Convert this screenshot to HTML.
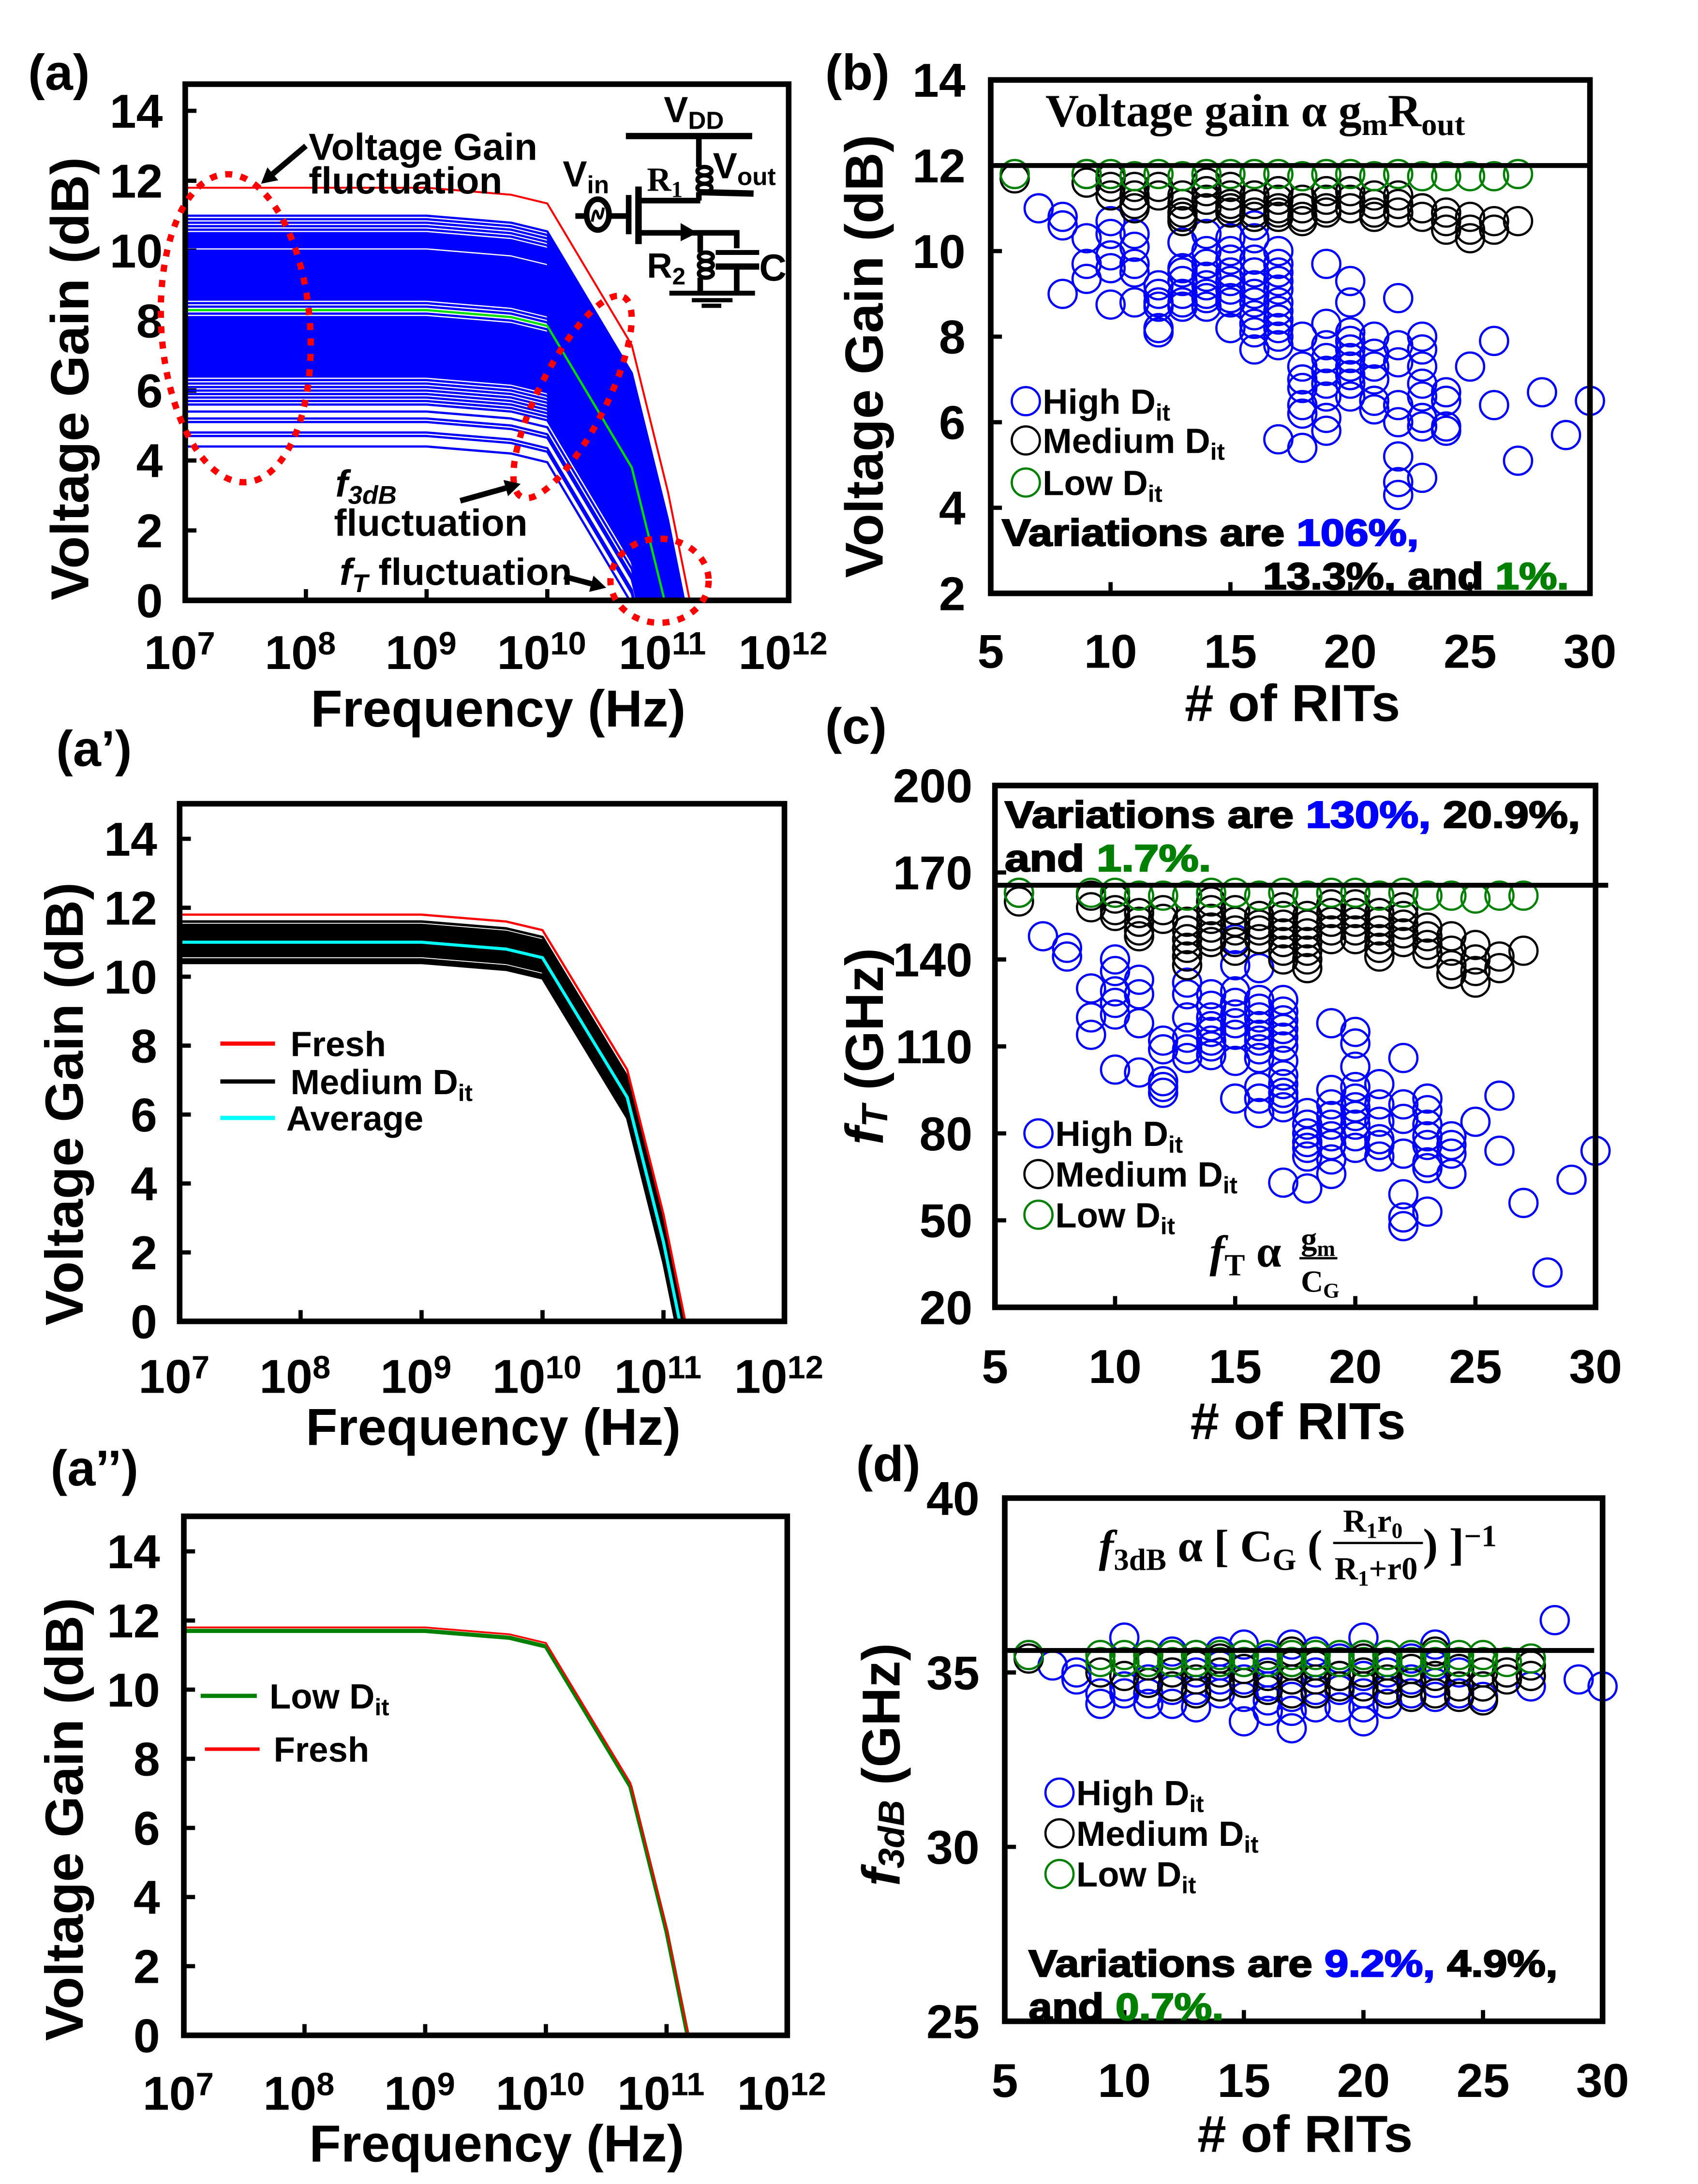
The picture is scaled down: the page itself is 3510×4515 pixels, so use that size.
<!DOCTYPE html>
<html><head><meta charset="utf-8"><style>
html,body{margin:0;padding:0;background:#fff;}
svg{display:block;}
text{font-family:"Liberation Sans",Arial,sans-serif;font-weight:bold;}
.serif{font-family:"Liberation Serif","DejaVu Serif",serif;}
</style></head><body>
<svg id="fig" xmlns="http://www.w3.org/2000/svg" width="3510" height="4515" viewBox="0 0 1210 1557" preserveAspectRatio="none">
<rect x="0" y="0" width="1210" height="1557" fill="#fff"/>
</svg>
<script>
// ---------- data: frequency response ----------
const freqLog = [7, 9, 9.7, 10, 10.7, 11, 11.18];
const gainDrop = [0, 0, 0.2, 0.45, 4.5, 8.7, 11.8];
const freshLevel = 11.8;
const greenLevelA = 8.3;
const blueLevelsA = [11.0,10.9,10.8,10.7,10.6,10.5,10.45,10.4,10.35,10.3,10.25,10.2,10.15,10.1,10.0,9.95,9.9,9.85,9.8,9.75,9.7,9.65,9.6,9.55,9.5,9.45,9.4,9.35,9.3,9.25,9.2,9.15,9.1,9.05,9.0,8.95,8.9,8.85,8.8,8.75,8.7,8.65,8.6,8.5,8.4,8.2,8.1,8.05,8.0,7.95,7.9,7.85,7.8,7.75,7.7,7.65,7.6,7.55,7.5,7.45,7.4,7.35,7.3,7.25,7.2,7.15,7.1,7.05,7.0,6.95,6.9,6.85,6.8,6.75,6.7,6.65,6.6,6.55,6.5,6.45,6.4,6.3,6.2,6.1,6.0,5.9,5.8,5.7,5.6,5.4,5.2,5.1,4.8,4.7,4.4];
const blackLevelsA2 = [11.6,11.5,11.45,11.4,11.35,11.3,11.25,11.2,11.15,11.1,11.05,11.0,10.95,10.9,10.85,10.8,10.75,10.7,10.65,10.6,10.5,10.45,10.4];
const averageLevelA2 = 11.0;
const lowLevelA3 = 11.7;
const freshLevelA3 = 11.8;
const freqTicks = [7,8,9,10,11,12];
const gainTicks = [0,2,4,6,8,10,12,14];

// ---------- data: panel (b) voltage gain vs RITs ----------
const bHighX = [7,8,8,8,9,9,9,10,10,10,10,10,11,11,11,11,11,12,12,12,12,12,12,13,13,13,13,13,13,13,14,14,14,14,14,14,14,14,15,15,15,15,15,15,15,15,15,15,16,16,16,16,16,16,16,16,16,16,16,17,17,17,17,17,17,17,17,17,17,17,17,18,18,18,18,18,18,18,19,19,19,19,19,19,19,19,19,20,20,20,20,20,20,20,20,20,20,21,21,21,21,21,21,22,22,22,22,22,22,22,22,23,23,23,23,23,23,23,23,24,24,24,24,25,26,26,27,28,29,30];
const bHighY = [11.0,10.8,10.6,9.0,10.3,9.7,9.35,10.7,10.4,9.9,9.6,8.75,10.4,10.1,9.7,9.5,8.8,9.2,8.8,8.7,8.2,8.1,9.0,10.2,9.6,9.3,9.0,8.8,8.7,9.5,10.4,10.0,9.7,9.4,9.2,9.0,8.9,8.7,11.0,10.3,10.0,9.8,9.5,9.3,9.1,8.9,8.8,8.2,10.6,10.3,9.8,9.5,9.2,9.0,8.8,8.5,8.3,8.1,7.7,10.0,9.7,9.5,9.3,9.1,8.8,8.6,8.4,8.2,8.0,7.8,5.6,8.0,7.3,7.0,6.8,6.4,6.2,5.4,9.7,8.3,7.8,7.5,7.2,6.9,6.6,6.1,5.8,9.3,8.8,8.1,7.9,7.7,7.5,7.3,7.1,6.9,6.6,8.0,7.6,7.3,7.0,6.5,6.3,8.9,7.8,7.4,6.4,6.0,5.2,4.6,4.3,8.0,7.7,7.3,6.9,6.6,6.1,5.9,4.7,6.7,6.5,5.9,5.8,7.3,7.9,6.4,5.1,6.7,5.7,6.5];
const bMedX = [6,9,9,10,10,10,11,11,11,11,12,12,13,13,13,13,13,14,14,14,14,15,15,15,15,15,16,16,16,16,17,17,17,17,17,18,18,18,18,19,19,19,19,20,20,20,21,21,21,21,22,22,22,23,23,24,24,24,25,25,25,26,26,27];
const bMedY = [11.7,11.8,11.6,11.7,11.5,11.3,11.5,11.3,11.1,11.0,11.5,11.3,11.3,11.1,10.9,10.8,10.7,11.6,11.4,11.2,11.0,11.5,11.3,11.1,11.0,10.9,11.3,11.1,10.9,10.8,11.4,11.2,11.0,10.9,10.8,11.2,11.0,10.8,10.7,11.4,11.2,11.0,10.9,11.4,11.2,11.0,11.3,11.1,10.9,10.8,11.3,11.1,10.9,11.0,10.8,10.9,10.7,10.5,10.8,10.5,10.3,10.7,10.5,10.7];
const bLowX = [6,9,10,11,12,13,14,15,16,17,18,19,20,21,22,23,24,25,26,27];
const bLowY = [11.8,11.8,11.8,11.75,11.8,11.75,11.8,11.8,11.8,11.8,11.75,11.8,11.8,11.75,11.8,11.75,11.75,11.75,11.75,11.8];
const bRef = 12;
const bXTicks = [5,10,15,20,25,30];
const bYTicks = [2,4,6,8,10,12,14];

// ---------- data: panel (c) fT vs RITs ----------
const cHighX = [7,8,8,9,9,9,10,10,10,10,10,10,11,11,11,11,12,12,12,12,12,13,13,13,13,13,13,14,14,14,14,14,14,14,14,15,15,15,15,15,15,15,15,15,16,16,16,16,16,16,16,16,16,16,16,16,17,17,17,17,17,17,17,17,17,17,17,17,17,18,18,18,18,18,18,18,19,19,19,19,19,19,19,19,19,20,20,20,20,20,20,20,20,20,20,21,21,21,21,21,21,22,22,22,22,22,22,22,23,23,23,23,23,23,23,23,24,24,24,24,25,26,26,27,28,29,30];
const cHighY = [148,144,141,130,120,114,140,136,129,125,121,102,133,128,118,101,112,109,98,96,94,132,128,120,113,109,106,128,124,120,117,115,112,110,107,147,138,129,125,121,118,114,105,92,137,126,123,120,117,114,112,109,106,96,92,87,126,122,119,116,113,110,105,100,97,94,92,89,63,87,83,80,77,75,72,61,118,95,90,86,83,79,76,71,66,115,111,103,96,92,89,86,83,79,75,97,90,84,78,76,72,106,90,85,73,59,51,48,92,88,83,79,76,70,68,53,79,76,73,66,84,93,74,56,32,64,74];
const cMedX = [6,6,9,9,10,10,10,11,11,11,11,12,12,13,13,13,13,13,13,14,14,14,14,14,14,15,15,15,15,15,16,16,16,16,17,17,17,17,17,17,17,18,18,18,18,18,18,18,19,19,19,19,19,20,20,20,20,20,21,21,21,21,21,21,22,22,22,22,22,23,23,23,23,24,24,24,24,25,25,25,25,26,26,27];
const cMedY = [163,160,162,158,161,157,155,156,153,150,148,157,154,153,150,147,144,141,138,160,157,154,151,148,146,157,153,150,146,143,155,152,150,147,158,155,152,149,146,143,140,155,152,149,146,143,140,137,159,156,153,150,147,159,156,153,150,147,156,153,150,147,144,141,158,155,152,149,146,151,148,145,142,148,143,138,135,145,140,136,132,141,137,143];
const cLowX = [6,9,10,11,12,13,14,15,16,17,18,19,20,21,22,23,24,25,26,27];
const cLowY = [163,163,163,162,162,162,163,163,162,163,162,163,163,162,163,162,162,161,162,162];
const cRef = 165.6;
const cXTicks = [5,10,15,20,25,30];
const cYTicks = [20,50,80,110,140,170,200];

// ---------- data: panel (d) f3dB vs RITs ----------
const dHighX = [6,7,8,8,9,9,10,10,10,10,11,11,11,11,12,12,12,12,13,13,13,13,14,14,14,14,15,15,15,15,15,16,16,16,16,16,17,17,17,17,17,17,18,18,18,18,19,19,19,19,20,20,20,20,20,20,21,21,21,21,22,22,22,23,23,23,23,24,24,25,25,26,27,28,29,30];
const dHighY = [35.5,35.2,35.0,34.8,34.4,34.1,36.0,35.3,34.6,34.4,35.2,34.8,34.4,34.1,35.6,35.0,34.5,34.1,35.5,35.0,34.5,34.0,35.6,35.2,34.8,34.4,35.8,35.3,34.8,34.3,33.6,35.4,35.0,34.6,34.2,33.9,35.8,35.3,34.8,34.3,33.9,33.4,35.6,35.0,34.5,34.0,35.4,34.9,34.5,34.0,36.0,35.5,34.9,34.4,34.0,33.6,35.5,35.0,34.5,34.1,35.4,34.8,34.4,35.8,35.2,34.7,34.3,35.0,34.4,34.6,34.3,35.0,34.6,36.5,34.8,34.6];
const dMedX = [6,9,10,10,11,11,12,12,12,13,13,13,14,14,14,15,15,15,16,16,16,17,17,17,17,18,18,18,19,19,19,20,20,20,21,21,21,22,22,22,23,23,23,24,24,24,25,25,25,26,26,27,27];
const dMedY = [35.4,35.0,35.3,34.9,35.2,34.7,35.5,35.0,34.6,35.2,34.8,34.4,35.4,35.0,34.6,35.5,35.1,34.7,35.3,34.9,34.5,35.6,35.2,34.8,34.4,35.2,34.8,34.4,35.3,34.9,34.6,35.4,35.0,34.6,35.2,34.8,34.4,35.1,34.7,34.3,35.6,34.9,34.4,35.1,34.6,34.3,35.0,34.6,34.2,35.0,34.8,34.9,35.2];
const dLowX = [6,9,9,10,10,11,11,12,12,13,13,14,14,15,15,16,16,17,17,18,18,19,19,20,20,21,21,22,22,23,23,24,24,25,25,26,27];
const dLowY = [35.5,35.5,35.3,35.5,35.3,35.5,35.3,35.5,35.3,35.5,35.3,35.5,35.3,35.5,35.3,35.5,35.3,35.5,35.3,35.5,35.3,35.5,35.3,35.5,35.3,35.5,35.3,35.5,35.3,35.5,35.3,35.5,35.3,35.5,35.3,35.3,35.4];
const dRef = 35.63;
const dXTicks = [5,10,15,20,25,30];
const dYTicks = [25,30,35,40];

const NS = 'http://www.w3.org/2000/svg';
const svg = document.getElementById('fig');
function mk(tag, attrs, parent) {
  const e = document.createElementNS(NS, tag);
  for (const k in attrs) e.setAttribute(k, attrs[k]);
  (parent || svg).appendChild(e);
  return e;
}
function txt(x, y, s, size, opts, parent) {
  const t = mk('text', Object.assign({x: x, y: y, 'font-size': size}, opts || {}), parent);
  t.textContent = s;
  return t;
}
function richText(x, y, parts, size, opts, parent) {
  const t = mk('text', Object.assign({x: x, y: y, 'font-size': size}, opts || {}), parent);
  parts.forEach(p => {
    const s = document.createElementNS(NS, 'tspan');
    s.textContent = p[0];
    if (p[1] === 'sub') { s.setAttribute('font-size', size * 0.68); s.setAttribute('baseline-shift', '-28%'); }
    else if (p[1] === 'sup') { s.setAttribute('font-size', size * 0.68); s.setAttribute('baseline-shift', '45%'); }
    else if (p[1]) { s.setAttribute('fill', p[1]); s.setAttribute('stroke', p[1]); }
    if (p[2]) s.setAttribute('font-style', 'italic');
    t.appendChild(s);
  });
  return t;
}
function noteText(x, y, parts, len, parent) {
  const t = richText(x, y, parts, 27, {stroke: '#000', 'stroke-width': 0.9, textLength: len, lengthAdjust: 'spacingAndGlyphs'}, parent);
  return t;
}

// ---------- frequency panels ----------
function freqPanel(name, L, R, T, B, y14, labelX, ylabX, ylabY, tickBase, titleBase, title, titleX) {
  const g = mk('g', {});
  
  
  const sx = lf => L + (lf - 7) * (R - L) / 5;
  const sy = v => B - v * (B - y14) / 14;
  const curve = (level, color, w, nm) => {
    const pts = [];
    for (let i = 0; i < freqLog.length; i++) {
      const v = level - gainDrop[i];
      if (v >= 0) pts.push([sx(freqLog[i]), sy(v)]);
      else {
        const vp = level - gainDrop[i - 1];
        const lf = freqLog[i - 1] + (freqLog[i] - freqLog[i - 1]) * vp / (vp - v);
        pts.push([sx(lf), sy(0)]);
        break;
      }
    }
    const p = mk('polyline', {points: pts.map(q => q[0].toFixed(2) + ',' + q[1].toFixed(2)).join(' '), fill: 'none', stroke: color, 'stroke-width': w, 'stroke-linejoin': 'round'}, g);
    
    
    return p;
  };
  gainTicks.forEach(v => {
    const l = mk('line', {x1: L, x2: L + 8, y1: sy(v), y2: sy(v), stroke: '#000', 'stroke-width': 3}, g);
    
    
    const t = txt(labelX, sy(v) + 12, String(v), 34, {'text-anchor': 'end'}, g);
    
    
  });
  freqTicks.forEach(lf => {
    const l = mk('line', {x1: sx(lf), x2: sx(lf), y1: B, y2: B - 8, stroke: '#000', 'stroke-width': 3}, g);
    
    
    const t = richText(sx(lf) - 4, tickBase, [['10', ''], [String(lf), 'sup']], 34, {'text-anchor': 'middle'}, g);
    
    
  });
  const xl = txt((L + R) / 2 + 8, titleBase, 'Frequency (Hz)', 37, {'text-anchor': 'middle'}, g);
  
  
  const yl = txt(0, 0, 'Voltage Gain (dB)', 38, {'text-anchor': 'middle', transform: 'translate(' + ylabX + ',' + ylabY + ') rotate(-90)', 'dominant-baseline': 'central'}, g);
  
  
  const pt = txt(titleX, title[1], title[0], 36, {}, g);
  
  
  return {g, sx, sy, curve, L, R, T, B};
}

// Panel (a)
const A = freqPanel('panel-a', 132, 562, 60, 428, 79, 116, 50, 270, 477, 518, ['(a)', 64], 20);
blueLevelsA.forEach(lv => A.curve(lv, '#0000ff', 1.6, 'blue-curve'));
A.curve(greenLevelA, '#00dd00', 1.6, 'green-average-curve');
A.curve(freshLevel, '#ff0000', 1.4, 'fresh-curve');
(function () {
  const box = mk('rect', {x: A.L, y: A.T, width: A.R - A.L, height: A.B - A.T, fill: 'none', stroke: '#000', 'stroke-width': 4});
  
  
  const c = mk('g', {stroke: '#000', fill: 'none', 'stroke-width': 4});
  
  
  const L = (x1, y1, x2, y2, w) => mk('line', {x1, y1, x2, y2, 'stroke-width': w || 4}, c);
  L(446, 97, 536, 97, 4.5);
  L(498, 97, 498, 119);
  [122, 128, 134].forEach(y => mk('ellipse', {cx: 502, cy: y, rx: 5, ry: 3, 'stroke-width': 3}, c));
  L(498, 137, 537, 138, 4.5);
  L(498, 137, 498, 143);
  L(457, 143, 499, 143);
  L(455, 133, 455, 174, 4.6);
  L(448, 139, 448, 167, 4);
  L(410, 154, 448, 154);
  mk('ellipse', {cx: 426, cy: 153, rx: 8, ry: 11, 'stroke-width': 4, fill: '#fff'}, c);
  mk('path', {d: 'M422,158 Q424,146 426,153 Q428,160 430,148', 'stroke-width': 2}, c);
  L(457, 166, 526, 166);
  mk('polygon', {points: '485,159 497,166 485,172', fill: '#000', stroke: 'none'}, c);
  L(525, 164, 525, 177);
  L(499, 166, 499, 180);
  [183, 189, 195].forEach(y => mk('ellipse', {cx: 503, cy: y, rx: 5, ry: 3, 'stroke-width': 3}, c));
  L(499, 198, 499, 209);
  L(510, 180, 541, 180, 3.5);
  L(510, 190, 541, 190, 4.5);
  L(525, 190, 525, 209);
  L(477, 209, 538, 209, 3.5);
  L(493, 214, 522, 214, 3);
  L(500, 218, 514, 218, 3);
  const t1 = richText(473, 87, [['V', ''], ['DD', 'sub']], 26, {}, c);
  t1.setAttribute('stroke', 'none'); t1.setAttribute('fill', '#000');
  
  
  const t2 = richText(508, 127, [['V', ''], ['out', 'sub']], 26, {}, c);
  t2.setAttribute('stroke', 'none'); t2.setAttribute('fill', '#000');
  
  
  const t3 = richText(401, 133, [['V', ''], ['in', 'sub']], 26, {}, c);
  t3.setAttribute('stroke', 'none'); t3.setAttribute('fill', '#000');
  
  
  const t4 = richText(461, 136, [['R', ''], ['1', 'sub']], 24, {class: 'serif'}, c);
  t4.setAttribute('stroke', 'none'); t4.setAttribute('fill', '#000');
  
  
  const t5 = richText(461, 198, [['R', ''], ['2', 'sub']], 25, {}, c);
  t5.setAttribute('stroke', 'none'); t5.setAttribute('fill', '#000');
  
  
  const t6 = txt(541, 200, 'C', 27, {stroke: 'none', fill: '#000'}, c);
  
  
  const an = mk('g', {});
  
  
  const d = {fill: 'none', stroke: '#ff0000', 'stroke-width': 4.5, 'stroke-dasharray': '5 6'};
  const e1 = mk('ellipse', Object.assign({cx: 168, cy: 234, rx: 53, ry: 110, transform: 'rotate(-4 168 234)'}, d), an);
  
  
  const e2 = mk('ellipse', Object.assign({cx: 408, cy: 283, rx: 80, ry: 24, transform: 'rotate(-63 408 283)'}, d), an);
  
  
  const e3 = mk('ellipse', Object.assign({cx: 470, cy: 414, rx: 35, ry: 30}, d), an);
  
  
  const arrow = (x1, y1, x2, y2, nm) => {
    const ang = Math.atan2(y2 - y1, x2 - x1), h = 11;
    const ln = mk('line', {x1, y1, x2: x2 - Math.cos(ang) * h, y2: y2 - Math.sin(ang) * h, stroke: '#000', 'stroke-width': 4}, an);
    
    
    const px = -Math.sin(ang) * 6, py = Math.cos(ang) * 6;
    const bx = x2 - Math.cos(ang) * h, by = y2 - Math.sin(ang) * h;
    const hd = mk('polygon', {points: x2 + ',' + y2 + ' ' + (bx + px) + ',' + (by + py) + ' ' + (bx - px) + ',' + (by - py), fill: '#000'}, an);
    
    
  };
  arrow(218, 104, 186, 131, 'gain-arrow');
  arrow(328, 357, 371, 345, 'f3db-arrow');
  arrow(402, 411, 432, 419, 'ft-arrow');
  const a1 = txt(220, 114, 'Voltage Gain', 27, {}, an);
  
  
  const a2 = txt(220, 138, 'fluctuation', 27, {}, an);
  
  
  const a3 = richText(239, 354, [['f', '', 1], ['3dB', 'sub', 1]], 27, {}, an);
  
  
  const a4 = txt(238, 382, 'fluctuation', 27, {}, an);
  
  
  const a5 = richText(242, 417, [['f', '', 1], ['T', 'sub', 1], [' fluctuation', '']], 27, {}, an);
  
  
})();

// Panel (a')
const A2 = freqPanel('panel-a-prime', 128, 559, 573, 942, 598, 112, 46, 787, 993, 1030, ["(a’)", 546], 40);
blackLevelsA2.forEach(lv => A2.curve(lv, '#000', 1.8, 'medium-dit-curve'));
A2.curve(freshLevel, '#ff0000', 1.6, 'fresh-curve');
A2.curve(averageLevelA2, '#00ffff', 2.2, 'average-curve');
(function () {
  const box = mk('rect', {x: A2.L, y: A2.T, width: A2.R - A2.L, height: A2.B - A2.T, fill: 'none', stroke: '#000', 'stroke-width': 4});
  
  
  const lg = mk('g', {});
  
  
  [['Fresh', '#ff0000', 744], ['Medium D', '#000', 771], ['Average', '#00ffff', 797]].forEach(r => {
    const l = mk('line', {x1: 157, x2: 196, y1: r[2], y2: r[2], stroke: r[1], 'stroke-width': 3}, lg);
    
    
    const parts = r[0] === 'Medium D' ? [['Medium D', ''], ['it', 'sub']] : [[r[0], '']];
    const t = richText(r[0] === 'Average' ? 204 : 207, r[2] + 9, parts, 25, {}, lg);
    
    
  });
})();

// Panel (a'')
const A3 = freqPanel('panel-a-double-prime', 131, 561, 1081, 1451, 1106, 114, 46, 1297, 1504, 1541, ["(a’’)", 1059], 36);
A3.curve(lowLevelA3, '#008000', 3, 'low-dit-curve');
A3.curve(freshLevelA3, '#ff0000', 1.3, 'fresh-curve');
(function () {
  const box = mk('rect', {x: A3.L, y: A3.T, width: A3.R - A3.L, height: A3.B - A3.T, fill: 'none', stroke: '#000', 'stroke-width': 4});
  
  
  const lg = mk('g', {});
  
  
  const l1 = mk('line', {x1: 143, x2: 183, y1: 1209, y2: 1209, stroke: '#008000', 'stroke-width': 3}, lg);
  
  
  const t1 = richText(192, 1218, [['Low D', ''], ['it', 'sub']], 25, {}, lg);
  
  
  const l2 = mk('line', {x1: 146, x2: 185, y1: 1247, y2: 1247, stroke: '#ff0000', 'stroke-width': 2.5}, lg);
  
  
  const t2 = txt(195, 1256, 'Fresh', 25, {}, lg);
  
  
})();

// ---------- scatter panels ----------
function scatterPanel(name, L, R, T, B, ymin, ymax, xTicks, yTicks, labelRight, tickBase, series, ref, refR) {
  const g = mk('g', {});
  
  
  const sx = r => L + (r - 5) * (R - L) / 25;
  const sy = v => B - (v - ymin) * (B - T) / (ymax - ymin);
  series.forEach(s => {
    const sg = mk('g', {fill: 'none', stroke: s.color, 'stroke-width': 1.6}, g);
    
    
    s.x.forEach((r, i) => {
      const c = mk('circle', {cx: sx(r).toFixed(2), cy: sy(s.y[i]).toFixed(2), r: 10}, sg);
      
      
    });
  });
  const rl = mk('line', {x1: L, x2: refR, y1: sy(ref), y2: sy(ref), stroke: '#000', 'stroke-width': 3.5}, g);
  
  
  const box = mk('rect', {x: L, y: T, width: R - L, height: B - T, fill: 'none', stroke: '#000', 'stroke-width': 4}, g);
  
  
  yTicks.forEach(v => {
    const l = mk('line', {x1: L, x2: L + 8, y1: sy(v), y2: sy(v), stroke: '#000', 'stroke-width': 3}, g);
    
    
    const t = txt(labelRight, sy(v) + 12, String(v), 34, {'text-anchor': 'end'}, g);
    
    
  });
  xTicks.forEach(r => {
    const l = mk('line', {x1: sx(r), x2: sx(r), y1: B, y2: B - 8, stroke: '#000', 'stroke-width': 3}, g);
    
    
    const t = txt(sx(r), tickBase, String(r), 34, {'text-anchor': 'middle'}, g);
    
    
  });
  return {g, sx, sy};
}
function scatterLegend(x, ys, parent) {
  const lg = mk('g', {}, parent);
  
  
  [['High D', '#0000ff'], ['Medium D', '#000'], ['Low D', '#008000']].forEach((r, i) => {
    const c = mk('circle', {cx: x, cy: ys[i], r: 10, fill: 'none', stroke: r[1], 'stroke-width': 1.6}, lg);
    
    
    const t = richText(x + 12, ys[i] + 9, [[r[0], ''], ['it', 'sub']], 25, {}, lg);
    
    
  });
}

// (b)
const PB = scatterPanel('panel-b', 706, 1133, 57, 423, 2, 14, bXTicks, bYTicks, 688, 476,
  [{name: 'high-dit-series', color: '#0000ff', x: bHighX, y: bHighY},
   {name: 'medium-dit-series', color: '#000', x: bMedX, y: bMedY},
   {name: 'low-dit-series', color: '#008000', x: bLowX, y: bLowY}], bRef, 1133);
scatterLegend(731, [286, 314, 344], PB.g);
(function () {
  const g = PB.g;
  const f = richText(745, 90, [['Voltage gain α ', ''], ['g', ''], ['m', 'sub'], ['R', ''], ['out', 'sub']], 33, {class: 'serif'}, g);
  
  
  const v1 = noteText(714, 389, [['Variations are ', ''], ['106%,', '#0000ff']], 297, g);
  
  
  const v2 = noteText(900, 420, [['13.3%, and ', ''], ['1%.', '#008000']], 218, g);
  
  
  const xl = txt(921, 514, '# of RITs', 37, {'text-anchor': 'middle'}, g);
  
  
  const yl = txt(0, 0, 'Voltage Gain (dB)', 38, {'text-anchor': 'middle', transform: 'translate(616,254) rotate(-90)', 'dominant-baseline': 'central'}, g);
  
  
  const pt = txt(588, 64, '(b)', 36, {}, g);
  
  
})();

// (c)
const PC = scatterPanel('panel-c', 709, 1137, 560, 932, 20, 200, cXTicks, cYTicks, 693, 986,
  [{name: 'high-dit-series', color: '#0000ff', x: cHighX, y: cHighY},
   {name: 'medium-dit-series', color: '#000', x: cMedX, y: cMedY},
   {name: 'low-dit-series', color: '#008000', x: cLowX, y: cLowY}], cRef, 1146);
scatterLegend(740, [808, 837, 866], PC.g);
(function () {
  const g = PC.g;
  const v1 = noteText(716, 590, [['Variations are ', ''], ['130%,', '#0000ff'], [' 20.9%,', '']], 410, g);
  
  
  const v2 = noteText(716, 621, [['and  ', ''], ['1.7%.', '#008000']], 147, g);
  
  
  const f = richText(862, 903, [['f', '', 1], ['T', 'sub'], [' α', '']], 32, {class: 'serif'}, g);
  
  
  const n = richText(927, 891, [['g', ''], ['m', 'sub']], 23, {class: 'serif'}, g);
  
  
  const fl = mk('line', {x1: 926, x2: 953, y1: 897, y2: 897, stroke: '#000', 'stroke-width': 1.6}, g);
  
  
  const dn = richText(927, 921, [['C', ''], ['G', 'sub']], 22, {class: 'serif'}, g);
  
  
  const xl = txt(925, 1026, '# of RITs', 37, {'text-anchor': 'middle'}, g);
  
  
  const yl = richText(0, 0, [['f', '', 1], ['T', 'sub', 1], [' (GHz)', '']], 38, {'text-anchor': 'middle', transform: 'translate(616,746) rotate(-90)', 'dominant-baseline': 'central'}, g);
  
  
  const pt = txt(588, 530, '(c)', 36, {}, g);
  
  
})();

// (d)
const PD = scatterPanel('panel-d', 716, 1142, 1068, 1441, 25, 40, dXTicks, dYTicks, 698, 1495,
  [{name: 'high-dit-series', color: '#0000ff', x: dHighX, y: dHighY},
   {name: 'medium-dit-series', color: '#000', x: dMedX, y: dMedY},
   {name: 'low-dit-series', color: '#008000', x: dLowX, y: dLowY}], dRef, 1136);
scatterLegend(755, [1278, 1307, 1336], PD.g);
(function () {
  const g = PD.g;
  const f = richText(783, 1113, [['f', '', 1], ['3dB', 'sub'], [' α [ C', ''], ['G', 'sub'], [' (', '']], 32, {class: 'serif'}, g);
  
  
  const n = richText(957, 1092, [['R', ''], ['1', 'sub'], ['r', ''], ['0', 'sub']], 23, {class: 'serif'}, g);
  
  
  const fl = mk('line', {x1: 950, x2: 1014, y1: 1100, y2: 1100, stroke: '#000', 'stroke-width': 1.6}, g);
  
  
  const dn = richText(951, 1126, [['R', ''], ['1', 'sub'], ['+r0', '']], 23, {class: 'serif'}, g);
  
  
  const cl = richText(1014, 1112, [[')    ]', ''], ['−1', 'sup']], 32, {class: 'serif'}, g);
  
  
  const v1 = noteText(733, 1409, [['Variations are ', ''], ['9.2%,', '#0000ff'], [' 4.9%,', '']], 377, g);
  
  
  const v2 = noteText(733, 1440, [['and ', ''], ['0.7%.', '#008000']], 139, g);
  
  
  const xl = txt(930, 1534, '# of RITs', 37, {'text-anchor': 'middle'}, g);
  
  
  const yl = richText(0, 0, [['f', '', 1], ['3dB', 'sub', 1], [' (GHz)', '']], 38, {'text-anchor': 'middle', transform: 'translate(628,1258) rotate(-90)', 'dominant-baseline': 'central'}, g);
  
  
  const pt = txt(610, 1056, '(d)', 36, {}, g);
  
  
})();
</script>
</body></html>
